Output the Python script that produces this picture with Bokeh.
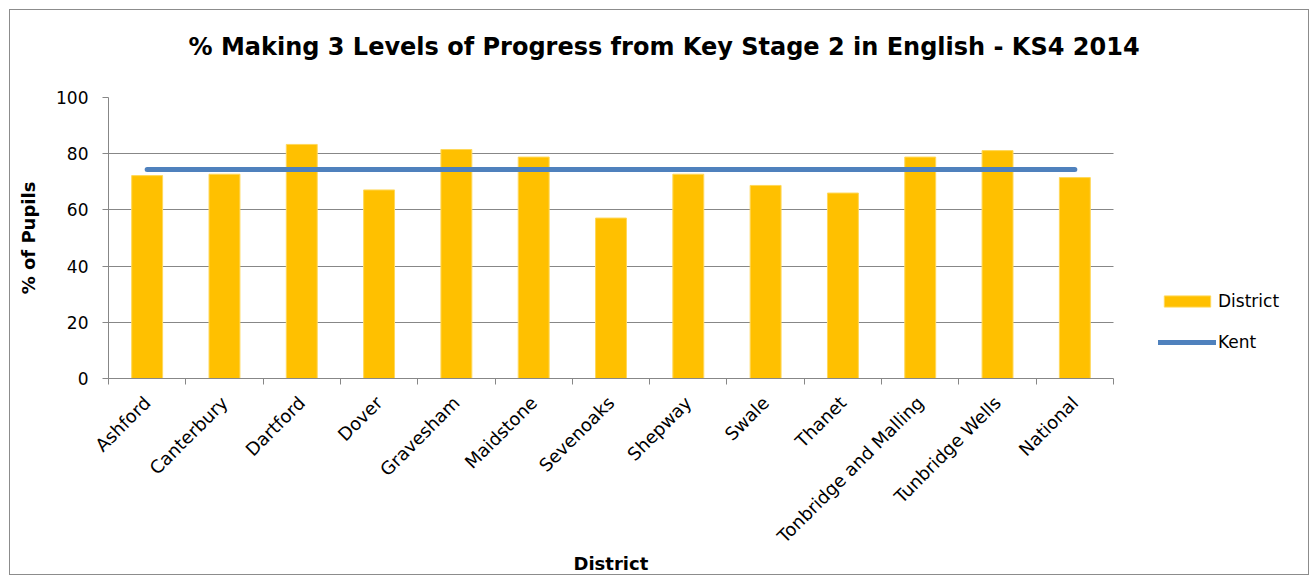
import math
from bokeh.plotting import figure
from bokeh.models import (FixedTicker, Legend, LegendItem, ColumnDataSource, Range1d, Title)
from bokeh.embed import file_html
from bokeh.resources import INLINE

districts = ["Ashford", "Canterbury", "Dartford", "Dover", "Gravesham", "Maidstone",
             "Sevenoaks", "Shepway", "Swale", "Thanet", "Tonbridge and Malling",
             "Tunbridge Wells", "National"]
district_pct = [72.2, 72.7, 83.3, 67.1, 81.5, 78.8, 57.1, 72.7, 68.7, 66.0, 78.8, 81.1, 71.5]
kent_pct = [74.4, 74.4, 74.4, 74.4, 74.4, 74.4, 74.4, 74.4, 74.4, 74.4, 74.4, 74.4, 74.4]
y_ticks = [0, 20, 40, 60, 80, 100]

n = len(districts)
centers = [i + 0.5 for i in range(n)]
bounds = [float(i) for i in range(n + 1)]

src = ColumnDataSource(dict(x=centers, district=district_pct, kent=kent_pct, name=districts))

FONT = "DejaVu Sans"
GRID = "#878787"

# plot area of 1005 px for the categories, plus 195 px on the right for the legend
CAT_W, LEG_W = 1005, 195
p = figure(frame_width=CAT_W + LEG_W, frame_height=281, output_backend="svg",
           toolbar_location=None,
           x_range=Range1d(0, n * (CAT_W + LEG_W) / CAT_W), y_range=Range1d(0, 100),
           min_border_left=98, min_border_right=0, min_border_top=87, min_border_bottom=196,
           styles={"border": "1px solid #8c8c8c", "margin-left": "9px", "margin-top": "9px"})

p.title.text = "% Making 3 Levels of Progress from Key Stage 2 in English - KS4 2014"
p.title.align = "left"
p.title.text_font = FONT
p.title.text_font_size = "24px"
p.title.text_font_style = "bold"
p.title.text_color = "#000000"
p.title.offset = 80
p.title.standoff = 0

# blank spacer between the plot area and the chart title
p.add_layout(Title(text=" ", text_font_size="1px", standoff=34), "above")

bars = p.vbar(x="x", top="district", width=0.4, source=src,
              fill_color="#FFC000", line_color="#FFD85A", line_width=1)
line = p.line(x="x", y="kent", source=src, line_color="#4F81BD", line_width=5,
              line_cap="round")

p.outline_line_color = None
p.xgrid.grid_line_color = None
p.ygrid.grid_line_color = GRID
p.ygrid.grid_line_width = 1
p.ygrid.ticker = FixedTicker(ticks=y_ticks)
p.ygrid.cross_bounds = (0, n)

# y axis
p.yaxis.ticker = FixedTicker(ticks=y_ticks)
p.yaxis.axis_line_color = GRID
p.yaxis.major_tick_line_color = GRID
p.yaxis.major_tick_in = 0
p.yaxis.major_tick_out = 6
p.yaxis.minor_tick_line_color = None
p.yaxis.major_label_text_font = FONT
p.yaxis.major_label_text_font_size = "17px"
p.yaxis.major_label_text_color = "#000000"
p.yaxis.major_label_standoff = 14
p.yaxis.axis_label = "% of Pupils"
p.yaxis.axis_label_text_font = FONT
p.yaxis.axis_label_text_font_size = "18px"
p.yaxis.axis_label_text_font_style = "bold"
p.yaxis.axis_label_text_color = "#000000"
p.yaxis.axis_label_standoff = 14

# x axis: labels at category centres, tick marks at boundaries
p.xaxis.bounds = (0, n)
p.xaxis.ticker = FixedTicker(ticks=centers, minor_ticks=bounds)
p.xaxis.major_label_overrides = {c: d for c, d in zip(centers, districts)}
p.xaxis.major_label_orientation = math.pi / 4
p.xaxis.axis_line_color = GRID
p.xaxis.major_tick_line_color = None
p.xaxis.major_tick_in = 0
p.xaxis.major_tick_out = 6
p.xaxis.minor_tick_line_color = GRID
p.xaxis.minor_tick_in = 0
p.xaxis.minor_tick_out = 6
p.xaxis.major_label_text_font = FONT
p.xaxis.major_label_text_font_size = "18px"
p.xaxis.major_label_text_color = "#000000"
p.xaxis.major_label_standoff = 15

# x axis title, centred under the category part of the plot
x_title = Title(text="District", align="left", offset=465, standoff=-14,
                text_font=FONT, text_font_size="18px", text_font_style="bold",
                text_color="#000000")
p.add_layout(x_title, "below")

legend = Legend(items=[LegendItem(label="District", renderers=[bars]),
                       LegendItem(label="Kent", renderers=[line])],
                location=(CAT_W + 45, 26), orientation="vertical",
                glyph_width=58, glyph_height=14, label_height=20, spacing=21,
                label_standoff=2, padding=0, margin=0, border_line_color=None,
                background_fill_alpha=0,
                label_text_font=FONT, label_text_font_size="17px", label_text_color="#000000")
p.add_layout(legend, "center")

open("out.html", "w").write(file_html(p, INLINE))
